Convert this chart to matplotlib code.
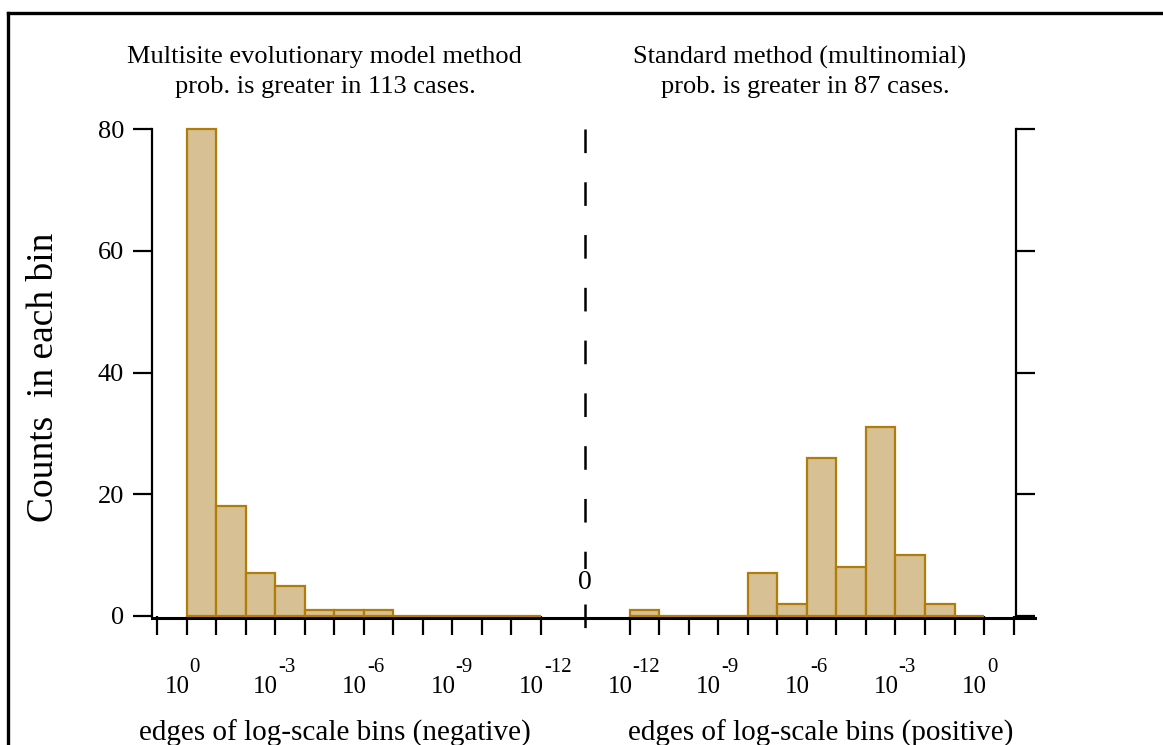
import matplotlib
matplotlib.use("Agg")
import matplotlib.pyplot as plt
from matplotlib.lines import Line2D

# comptes par bin (decades), cote negatif : de 10^0 vers 10^-12
neg_counts = [80, 18, 7, 5, 1, 1, 1, 0, 0, 0, 0, 0]
# cote positif : de 10^-12 vers 10^0
pos_counts = [1, 0, 0, 0, 7, 2, 26, 8, 31, 10, 2, 0]

neg_exps = [1, 0, -1, -2, -3, -4, -5, -6, -7, -8, -9, -10, -11, -12]
pos_exps = [-12, -11, -10, -9, -8, -7, -6, -5, -4, -3, -2, -1, 0, 1]
labelled_exps = [0, -3, -6, -9, -12]

y_ticks = [0, 20, 40, 60, 80]

titre_gauche = ["Multisite evolutionary model method", "prob. is greater in 113 cases."]
titre_droite = ["Standard method (multinomial)", "prob. is greater in 87 cases."]
xlabel_gauche = "edges of log-scale bins (negative)"
xlabel_droite = "edges of log-scale bins (positive)"
ylabel = "Counts  in each bin"

plt.rcParams['font.family'] = ['Liberation Serif', 'DejaVu Serif']
plt.rcParams['lines.scale_dashes'] = False

fill = '#d7c194'
edge = '#b07d0a'

W, H = 1163, 745
fig = plt.figure(figsize=(W / 100, H / 100), dpi=100)
ax = fig.add_axes([152 / W, 1 - 616 / H, (1016 - 152) / W, (616 - 129) / H])


# position sur l'axe : une unite par decade
def pos_neg(e):
    return 1 - e


def pos_pos(e):
    return 28 + e


mid = 14.5

# barres
for i, c in enumerate(neg_counts):
    ax.bar(pos_neg(-i), c, width=1, align='edge', color=fill, edgecolor=edge,
           linewidth=1.6, clip_on=False, zorder=3)
for i, c in enumerate(pos_counts):
    ax.bar(pos_pos(-12 + i), c, width=1, align='edge', color=fill, edgecolor=edge,
           linewidth=1.6, clip_on=False, zorder=3)

ax.set_xlim(-0.17, 29.08)
ax.set_ylim(0, 80)

# ticks x (etiquettes faites a la main : 10 + exposant)
xt = [pos_neg(e) for e in neg_exps] + [pos_pos(e) for e in pos_exps]
ax.set_xticks(xt)
ax.set_xticklabels([])
ax.set_yticks(y_ticks)
ax.set_yticklabels([str(v) for v in y_ticks], fontsize=19)

ax.tick_params(axis='x', direction='out', length=13.5, width=1.6)
ax.tick_params(axis='y', direction='out', length=14, width=1.6, pad=6,
               right=True, labelright=False)

for e in labelled_exps:
    for x in (pos_neg(e), pos_pos(e)):
        ax.annotate('10', xy=(x, 0), xycoords=('data', 'axes fraction'),
                    xytext=(3, -77), textcoords='offset pixels',
                    ha='right', va='baseline', fontsize=18)
        ax.annotate(str(e), xy=(x, 0), xycoords=('data', 'axes fraction'),
                    xytext=(3, -56), textcoords='offset pixels',
                    ha='left', va='baseline', fontsize=15)

for s in ['top', 'bottom']:
    ax.spines[s].set_visible(False)
for s in ['left', 'right']:
    ax.spines[s].set_linewidth(1.6)

# ligne horizontale de base, qui depasse a droite
ax.plot([-0.17, 29.72], [-0.3, -0.3], color='black', lw=2.2, clip_on=False, zorder=2)

# ligne pointillee au centre
ax.plot([mid, mid], [80, -2.3], color='black', lw=1.8, dashes=(17, 21),
        clip_on=False, zorder=2)
ax.text(mid, 5.5, '0', ha='center', va='center', fontsize=20,
        bbox=dict(facecolor='white', edgecolor='none', pad=1), zorder=5)

# titres
fig.text(324 / W, 1 - 57 / H, titre_gauche[0], ha='center', va='center', fontsize=19)
fig.text(325 / W, 1 - 87 / H, titre_gauche[1], ha='center', va='center', fontsize=19)
fig.text(800 / W, 1 - 57 / H, titre_droite[0], ha='center', va='center', fontsize=19)
fig.text(805 / W, 1 - 87 / H, titre_droite[1], ha='center', va='center', fontsize=19)

fig.text(335 / W, 1 - 733 / H, xlabel_gauche, ha='center', va='center', fontsize=21)
fig.text(821 / W, 1 - 733 / H, xlabel_droite, ha='center', va='center', fontsize=21)
fig.text(44 / W, 1 - 377 / H, ylabel, ha='center', va='center', rotation=90, fontsize=27)

# cadre
fig.add_artist(Line2D([8 / W, 8 / W], [-0.05, 1 - 13 / H], color='black', lw=2.4,
                      transform=fig.transFigure))
fig.add_artist(Line2D([8 / W, 1.05], [1 - 13 / H, 1 - 13 / H], color='black', lw=2.4,
                      transform=fig.transFigure))

fig.savefig('out.png', dpi=100)
